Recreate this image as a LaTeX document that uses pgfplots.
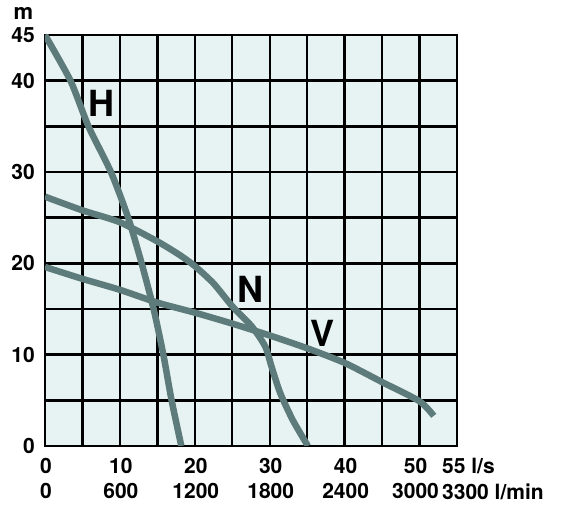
\documentclass[border=0pt]{standalone}
\usepackage{pgfplots}
\pgfplotsset{compat=1.18}
\usepackage{fontspec}
\setmainfont{TeX Gyre Heros}
\definecolor{bgcyan}{HTML}{E7F3F3}
\definecolor{curvegray}{HTML}{5E7B7B}
\begin{document}
\begin{tikzpicture}
\useasboundingbox (-45pt,-59pt) rectangle (518pt,446pt);
\begin{axis}[
  scale only axis,
  width=412pt, height=411pt,
  xmin=0, xmax=55, ymin=0, ymax=45,
  axis background/.style={fill=bgcyan},
  axis line style={line width=2.4pt, black},
  grid=major,
  grid style={line width=2.4pt, black},
  major tick length=0pt,
  xtick={0,5,...,50},
  xticklabels={{0\\0},{},{10\\600},{},{20\\1200},{},{30\\1800},{},{40\\2400},{},{50\hspace*{10pt}\\3000\hspace*{10pt}}},
  ytick={0,5,...,45},
  yticklabels={0,,10,,20,,30,,40,45},
  /pgf/number format/assume math mode=true,
  xticklabel style={font=\fontsize{21}{25.5}\selectfont\bfseries, align=center, inner sep=0pt, anchor=north, yshift=-12pt, xshift=1pt},
  yticklabel style={font=\fontsize{21}{24}\selectfont\bfseries, inner sep=0pt, anchor=east, xshift=-10pt},
  clip=true,
]
\addplot[curvegray, line width=6.5pt, smooth, tension=0.4] coordinates {
  (0,45) (3.4,40) (5.8,35) (8.8,30) (11.1,25) (12.9,20) (14.5,15) (15.8,10) (16.9,5) (18.2,0)
};
\addplot[curvegray, line width=6.5pt, smooth, tension=0.4] coordinates {
  (0,27.3) (5,25.8) (10,24.5) (15,22.4) (18,20.9) (20,19.7) (22.5,17.8) (25,15.3)
  (27.6,13.1) (29.4,10.9) (30.2,8.8) (31.4,5.8) (33.1,2.8) (35.1,0)
};
\addplot[curvegray, line width=6.5pt, smooth, tension=0.4] coordinates {
  (0,19.6) (5,18.3) (10,17.1) (15,15.7) (20,14.6) (25,13.4) (30,12.1) (35,10.7)
  (40,9.1) (45,7.0) (50,4.9) (51.9,3.3)
};
\node[font=\fontsize{36}{36}\selectfont\bfseries] at (axis cs:7.6,37.5) {H};
\node[font=\fontsize{36}{36}\selectfont\bfseries] at (axis cs:27.4,17.1) {N};
\node[font=\fontsize{36}{36}\selectfont\bfseries] at (axis cs:37.0,12.3) {V};
\end{axis}
\node[anchor=base, font=\fontsize{22}{24}\selectfont\bfseries, inner sep=0pt] at (-21.5pt,426pt) {m};
\node[anchor=north west, align=left, inner sep=0pt, font=\fontsize{21}{25.5}\selectfont\bfseries] at (397pt,-12pt) {55 l/s\\3300 l/min};
\end{tikzpicture}
\end{document}
